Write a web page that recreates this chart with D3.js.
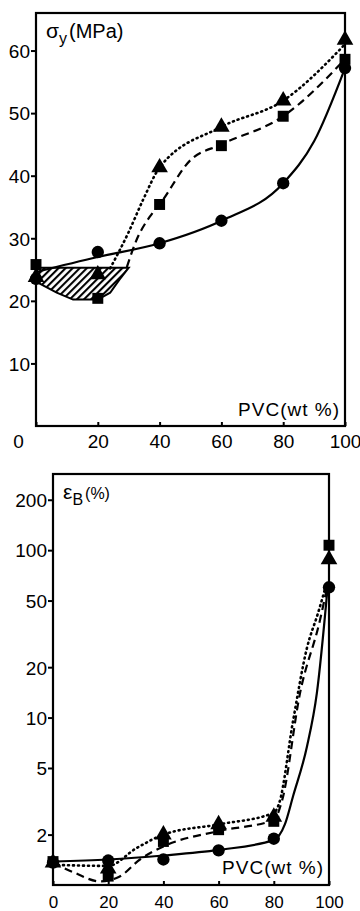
<!DOCTYPE html>
<html>
  <head>
    <script src="https://cdn.jsdelivr.net/npm/d3@7"></script>
    <style>
      body { margin: 0; background: #fff; }
      text { font-family: 'Liberation Sans', Arial, sans-serif; fill: #000; }
    </style>
  </head>
  <body>
    <svg width="360" height="911" id="mainsvg"></svg>
    <script>
        // PVC content (wt %)
        const pvc = [0, 20, 40, 60, 80, 100];

        // yield stress (MPa), marker points
        const sigmaCircle = [23.5, 27.8, 29.2, 32.8, 38.8, 57.2];
        const sigmaSquare = [25.8, 20.4, 35.4, 44.8, 49.5, 58.6];
        const sigmaTriangle = [23.8, 24.2, 41.3, 47.8, 52.0, 61.7];

        // hand-drawn fit curves [x, y]
        const sigmaSolidCurve = [[0, 24.6], [20, 27.0], [40, 29.2], [60, 32.8], [80, 38.8], [90, 45.5], [100, 57.2]];
        const sigmaDashedCurve = [[29.4, 25.4], [32.6, 29.8], [36.9, 33.5], [40, 35.4], [50, 42.5], [60, 45.0], [80, 49.5], [100, 58.6]];
        const sigmaDottedCurve = [[24, 25.2], [30, 31.0], [34.7, 36.2], [40, 41.3], [60, 47.8], [80, 52.0], [100, 61.0]];
        const hatchTop = [[0.3, 25.3], [30, 25.3]];
        const hatchBottom = [[30, 25.3], [27, 23.4], [24, 21.3], [20, 20.2], [12, 20.2], [6.7, 21.3], [0.3, 23.0]];

        // elongation at break (%), marker points
        const epsCircle = [1.36, 1.40, 1.42, 1.61, 1.89, 60];
        const epsSquare = [1.38, 1.13, 1.82, 2.14, 2.40, 107];
        const epsTriangle = [1.36, 1.25, 2.00, 2.30, 2.55, 88];

        const epsSolidCurve = [[0, 1.38], [20, 1.42], [40, 1.50], [60, 1.62], [80, 1.86], [84, 2.3], [87, 3.4], [92, 6.7], [95.6, 14], [99.5, 60]];
        const epsDashedCurve = [[0, 1.36], [8, 1.18], [17, 1.05], [24, 1.12], [31.5, 1.42], [40, 1.70], [60, 2.10], [80, 2.45], [83, 3.2], [89.5, 14], [96.7, 38], [99.5, 62]];
        const epsDottedCurve = [[0, 1.32], [20, 1.30], [30, 1.65], [40, 2.00], [60, 2.30], [80, 2.70], [82, 3.1], [87, 9.6], [92, 26], [96, 42], [99, 62]];

        const sigmaTicks = [10, 20, 30, 40, 50, 60];
        const epsTicks = [2, 5, 10, 20, 50, 100, 200];
        const xTicks = [0, 20, 40, 60, 80, 100];

        const svg = d3.select('#mainsvg');

        const defs = svg.append('defs');
        defs.append('pattern')
          .attr('id', 'hatch')
          .attr('patternUnits', 'userSpaceOnUse')
          .attr('width', 5).attr('height', 5)
          .attr('patternTransform', 'rotate(45)')
          .append('line')
          .attr('x1', 1).attr('y1', 0).attr('x2', 1).attr('y2', 5)
          .attr('stroke', '#000').attr('stroke-width', 2.2);

        const styles = {
          solid: {dash: null, width: 2.2},
          dashed: {dash: '8,5', width: 2.2},
          dotted: {dash: '1,4', width: 2.6}
        };

        function drawPanel(opt) {
          const g = svg.append('g');
          const x = d3.scaleLinear().domain([0, 100]).range([opt.left, opt.right]);
          const y = opt.y;

          // frame
          g.append('rect')
            .attr('x', opt.left).attr('y', opt.top)
            .attr('width', opt.right - opt.left).attr('height', opt.bottom - opt.top)
            .attr('fill', 'none').attr('stroke', '#000').attr('stroke-width', 2.2);

          // y axis
          const yAxis = g.append('g')
            .attr('transform', `translate(${opt.left},0)`)
            .call(d3.axisLeft(y).tickValues(opt.yTicks).tickSize(5).tickPadding(1).tickFormat(d3.format('d')));
          yAxis.select('.domain').remove();
          yAxis.selectAll('.tick line').attr('stroke-width', 2);
          yAxis.selectAll('.tick text').attr('font-size', 19).attr('dy', '0.36em');

          // x axis
          const xAxis = g.append('g')
            .attr('transform', `translate(0,${opt.bottom})`)
            .call(d3.axisBottom(x).tickValues(xTicks).tickSize(-4).tickPadding(opt.xPad));
          xAxis.select('.domain').remove();
          xAxis.selectAll('.tick line').attr('stroke-width', 2);
          xAxis.selectAll('.tick text').attr('font-size', opt.xFont).attr('dy', '0.71em');
          if (opt.zeroShift) {
            xAxis.selectAll('.tick text').filter(d => d === 0).attr('dx', opt.zeroShift);
          }

          // hatched region
          if (opt.hatch) {
            const pts = opt.hatch.top.concat(opt.hatch.bottom);
            g.append('path')
              .attr('d', d3.line().x(d => x(d[0])).y(d => y(d[1])).curve(d3.curveLinearClosed)(pts))
              .attr('fill', 'url(#hatch)')
              .attr('stroke', '#000').attr('stroke-width', 2);
          }

          // curves
          const line = d3.line().x(d => x(d[0])).y(d => y(d[1])).curve(d3.curveMonotoneX);
          opt.curves.forEach(c => {
            g.append('path')
              .attr('d', line(c.data))
              .attr('fill', 'none').attr('stroke', '#000')
              .attr('stroke-width', styles[c.style].width)
              .attr('stroke-dasharray', styles[c.style].dash)
              .attr('stroke-linecap', c.style === 'dotted' ? 'round' : 'butt');
          });

          // markers
          opt.markers.forEach(m => {
            g.selectAll(null).data(m.values).enter().append('path')
              .attr('transform', (d, i) => `translate(${x(pvc[i])},${y(d)})`)
              .attr('d', d3.symbol().type(m.type).size(m.size))
              .attr('fill', '#000');
          });

          // labels
          const yl = g.append('text').attr('x', opt.left + 10).attr('y', opt.top + 25).attr('font-size', 21);
          yl.append('tspan').text(opt.symbol);
          yl.append('tspan').attr('font-size', 16).attr('dy', 6).text(opt.sub);
          yl.append('tspan').attr('dy', -6).attr('dx', 2).attr('font-size', opt.unitSize).text(opt.unit);

          g.append('text')
            .attr('x', opt.right - 5).attr('y', opt.pvcY)
            .attr('text-anchor', 'end').attr('font-size', 19)
            .attr('letter-spacing', 1)
            .text('PVC(wt %)');
        }

        // top panel: yield stress
        drawPanel({
          left: 36, right: 345, top: 13, bottom: 426,
          y: d3.scaleLinear().domain([0, 66]).range([426, 13]),
          yTicks: sigmaTicks,
          zeroShift: -18, xPad: 9, xFont: 19,
          hatch: {top: hatchTop, bottom: hatchBottom},
          curves: [
            {data: sigmaSolidCurve, style: 'solid'},
            {data: sigmaDashedCurve, style: 'dashed'},
            {data: sigmaDottedCurve, style: 'dotted'}
          ],
          markers: [
            {values: sigmaCircle, type: d3.symbolCircle, size: 120},
            {values: sigmaSquare, type: d3.symbolSquare, size: 120},
            {values: sigmaTriangle, type: d3.symbolTriangle, size: 120}
          ],
          symbol: 'σ', sub: 'y', unit: '(MPa)', unitSize: 20,
          pvcY: 416
        });

        // bottom panel: elongation at break (log scale)
        drawPanel({
          left: 53, right: 329, top: 474, bottom: 885,
          y: d3.scaleLog().domain([1, 285]).range([885, 474]),
          yTicks: epsTicks,
          zeroShift: 0, xPad: 11, xFont: 17,
          curves: [
            {data: epsSolidCurve, style: 'solid'},
            {data: epsDashedCurve, style: 'dashed'},
            {data: epsDottedCurve, style: 'dotted'}
          ],
          markers: [
            {values: epsCircle, type: d3.symbolCircle, size: 120},
            {values: epsSquare, type: d3.symbolSquare, size: 120},
            {values: epsTriangle, type: d3.symbolTriangle, size: 120}
          ],
          symbol: 'ε', sub: 'B', unit: '(%)', unitSize: 16,
          pvcY: 874
        });
    </script>
  </body>
</html>
